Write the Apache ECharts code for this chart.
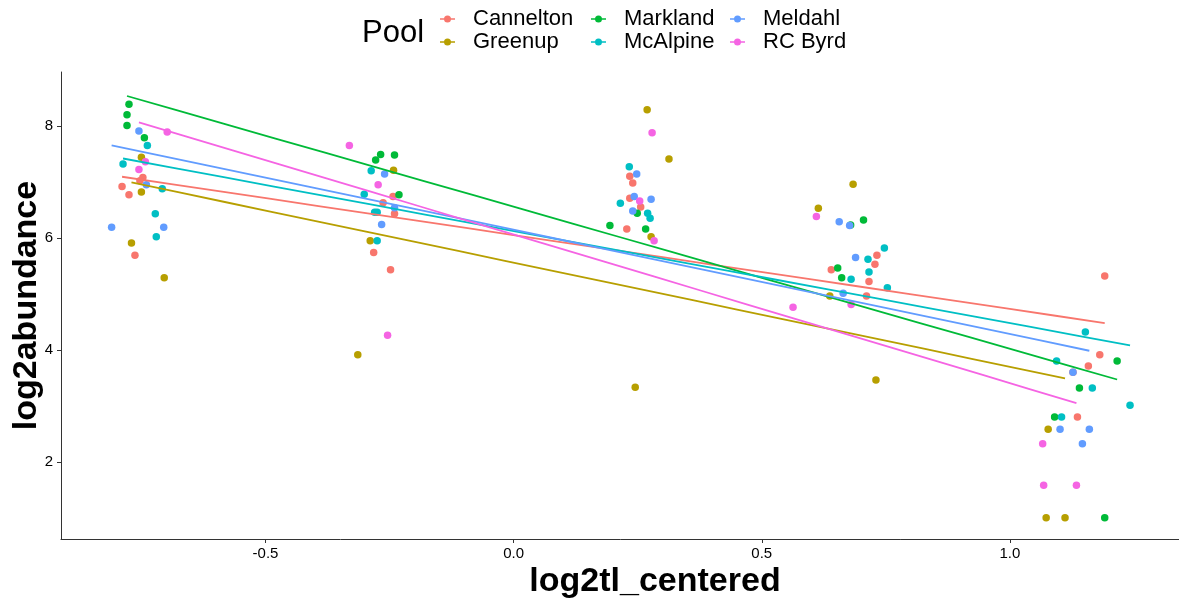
<!DOCTYPE html>
<html>
<head>
<meta charset="utf-8">
<script src="https://cdn.jsdelivr.net/npm/echarts@6/dist/echarts.min.js"></script>
<style>
  html, body { margin: 0; padding: 0; background: #fff; }
  #chart { width: 1179px; height: 601px; }
</style>
</head>
<body>
<div id="chart"></div>
<script>
// Pools and their observations: [log2tl_centered, log2abundance]
const pools = ['Cannelton', 'Greenup', 'Markland', 'McAlpine', 'Meldahl', 'RC Byrd'];

const cannelton = [
  [-0.747, 7.08], [-0.753, 7.02], [-0.789, 6.92], [-0.775, 6.77], [-0.763, 5.69],
  [-0.243, 6.74], [-0.263, 6.63], [-0.240, 6.43], [-0.282, 5.74], [-0.248, 5.43],
  [0.234, 7.10], [0.240, 6.98], [0.234, 6.71], [0.256, 6.55], [0.228, 6.16],
  [0.732, 5.69], [0.728, 5.53], [0.640, 5.43], [0.716, 5.22], [0.711, 4.96],
  [1.181, 3.91], [1.158, 3.71], [1.136, 2.80], [1.191, 5.32], [1.127, 3.60]
];
const greenup = [
  [-0.750, 7.44], [-0.750, 6.82], [-0.770, 5.91], [-0.704, 5.29],
  [-0.242, 7.21], [-0.289, 5.95], [-0.314, 3.91],
  [0.269, 8.29], [0.313, 7.41], [0.277, 6.02], [0.245, 3.33],
  [0.684, 6.96], [0.614, 6.53], [0.637, 4.96], [0.730, 3.46],
  [1.077, 2.58], [1.073, 1.00], [1.111, 1.00]
];
const markland = [
  [-0.775, 8.39], [-0.779, 8.20], [-0.779, 8.01], [-0.744, 7.79],
  [-0.268, 7.49], [-0.240, 7.48], [-0.278, 7.39], [-0.231, 6.77],
  [0.249, 6.44], [0.194, 6.22], [0.266, 6.16],
  [0.679, 6.23], [0.705, 6.32], [0.653, 5.46], [0.661, 5.29],
  [1.216, 3.80], [1.140, 3.32], [1.090, 2.80], [1.191, 1.00]
];
const mcalpine = [
  [-0.738, 7.65], [-0.787, 7.32], [-0.708, 6.88], [-0.722, 6.43], [-0.720, 6.02],
  [-0.287, 7.20], [-0.301, 6.78], [-0.280, 6.46], [-0.275, 6.46], [-0.275, 5.95],
  [0.233, 7.27], [0.215, 6.62], [0.270, 6.44], [0.275, 6.35],
  [0.747, 5.82], [0.714, 5.62], [0.716, 5.39], [0.680, 5.26], [0.753, 5.11],
  [1.152, 4.32], [1.094, 3.80], [1.166, 3.32], [1.242, 3.01], [1.104, 2.80]
];
const meldahl = [
  [-0.755, 7.91], [-0.740, 6.95], [-0.705, 6.19], [-0.810, 6.19],
  [-0.260, 7.14], [-0.240, 6.54], [-0.266, 6.24],
  [0.248, 7.14], [0.243, 6.74], [0.277, 6.69], [0.240, 6.48],
  [0.656, 6.29], [0.677, 6.22], [0.689, 5.65], [0.664, 5.01],
  [1.127, 3.60], [1.101, 2.58], [1.160, 2.58], [1.146, 2.32]
];
const rcByrd = [
  [-0.698, 7.89], [-0.742, 7.36], [-0.755, 7.22],
  [-0.331, 7.65], [-0.273, 6.95], [-0.254, 4.26],
  [0.279, 7.88], [0.254, 6.66], [0.283, 5.95],
  [0.610, 6.38], [0.680, 4.81], [0.563, 4.76],
  [1.066, 2.32], [1.068, 1.58], [1.134, 1.58]
];

const xTicks = [-0.5, 0.0, 0.5, 1.0];
const yTicks = [2, 4, 6, 8];

const poolData = [cannelton, greenup, markland, mcalpine, meldahl, rcByrd];
const poolColors = ['#F8766D', '#B79F00', '#00BA38', '#00BFC4', '#619CFF', '#F564E3'];

// Ordinary least squares fit, drawn over the observed x range of each pool
function fitLine(points) {
  const n = points.length;
  let sx = 0, sy = 0;
  points.forEach(p => { sx += p[0]; sy += p[1]; });
  const mx = sx / n, my = sy / n;
  let sxy = 0, sxx = 0;
  points.forEach(p => { sxy += (p[0] - mx) * (p[1] - my); sxx += (p[0] - mx) * (p[0] - mx); });
  const b = sxy / sxx, a = my - b * mx;
  const xs = points.map(p => p[0]);
  const x0 = Math.min.apply(null, xs), x1 = Math.max.apply(null, xs);
  const out = [];
  for (let i = 0; i <= 20; i++) {
    const x = x0 + (x1 - x0) * i / 20;
    out.push([x, a + b * x]);
  }
  return out;
}

const font = 'Liberation Sans, Arial, Helvetica, sans-serif';
const keyIcon = 'path://M0,7h15v1.6h-15z M4,7.8a3.5,3.5 0 1,1 7,0a3.5,3.5 0 1,1 -7,0z';

const series = [];
pools.forEach((name, i) => {
  series.push({
    name: name,
    type: 'scatter',
    data: poolData[i],
    symbol: 'circle',
    symbolSize: 7.5,
    itemStyle: { color: poolColors[i], opacity: 1 },
    z: 2
  });
});
pools.forEach((name, i) => {
  series.push({
    name: name,
    type: 'line',
    data: fitLine(poolData[i]),
    showSymbol: false,
    symbol: 'none',
    smooth: false,
    lineStyle: { color: poolColors[i], width: 1.8 },
    itemStyle: { color: poolColors[i] },
    z: 3
  });
});

function legendColumn(names, left) {
  return {
    orient: 'vertical',
    left: left,
    top: 8,
    padding: 0,
    itemWidth: 15,
    itemHeight: 7,
    itemGap: 1,
    icon: keyIcon,
    selectedMode: false,
    data: names,
    textStyle: {
      fontFamily: font,
      fontSize: 22,
      color: '#000',
      lineHeight: 22,
      padding: [0, 0, 0, 13]
    }
  };
}

const chart = echarts.init(document.getElementById('chart'), null, { renderer: 'canvas' });
chart.setOption({
  animation: false,
  backgroundColor: '#fff',
  title: {
    text: 'Pool',
    left: 362,
    top: 18,
    padding: 0,
    textStyle: { fontFamily: font, fontSize: 31, fontWeight: 'normal', color: '#000' }
  },
  legend: [
    legendColumn([pools[0], pools[1]], 440),
    legendColumn([pools[2], pools[3]], 591),
    legendColumn([pools[4], pools[5]], 730)
  ],
  grid: { left: 61, top: 72, width: 1188, height: 467, outerBoundsMode: 'none', containLabel: false },
  xAxis: {
    type: 'value',
    min: -0.912,
    max: 1.4817,
    name: 'log2tl_centered',
    nameLocation: 'middle',
    nameGap: 26,
    nameMoveOverlap: false,
    nameTextStyle: { fontFamily: font, fontSize: 34, fontWeight: 'bold', color: '#000' },
    splitLine: { show: false },
    axisLine: { show: true, onZero: false, lineStyle: { color: '#333', width: 1 } },
    axisTick: { show: true, length: 4, customValues: xTicks, lineStyle: { color: '#333' } },
    axisLabel: {
      customValues: xTicks,
      margin: 7,
      fontFamily: font,
      fontSize: 15,
      color: '#000',
      formatter: v => v.toFixed(1)
    }
  },
  yAxis: {
    type: 'value',
    min: 0.62,
    max: 8.964,
    name: 'log2abundance',
    nameLocation: 'middle',
    nameGap: 17,
    nameMoveOverlap: false,
    nameTextStyle: { fontFamily: font, fontSize: 34, fontWeight: 'bold', color: '#000' },
    splitLine: { show: false },
    axisLine: { show: true, onZero: false, lineStyle: { color: '#333', width: 1 } },
    axisTick: { show: true, length: 4, customValues: yTicks, lineStyle: { color: '#333' } },
    axisLabel: {
      customValues: yTicks,
      margin: 8,
      fontFamily: font,
      fontSize: 15,
      color: '#000'
    }
  },
  series: series
});
</script>
</body>
</html>
